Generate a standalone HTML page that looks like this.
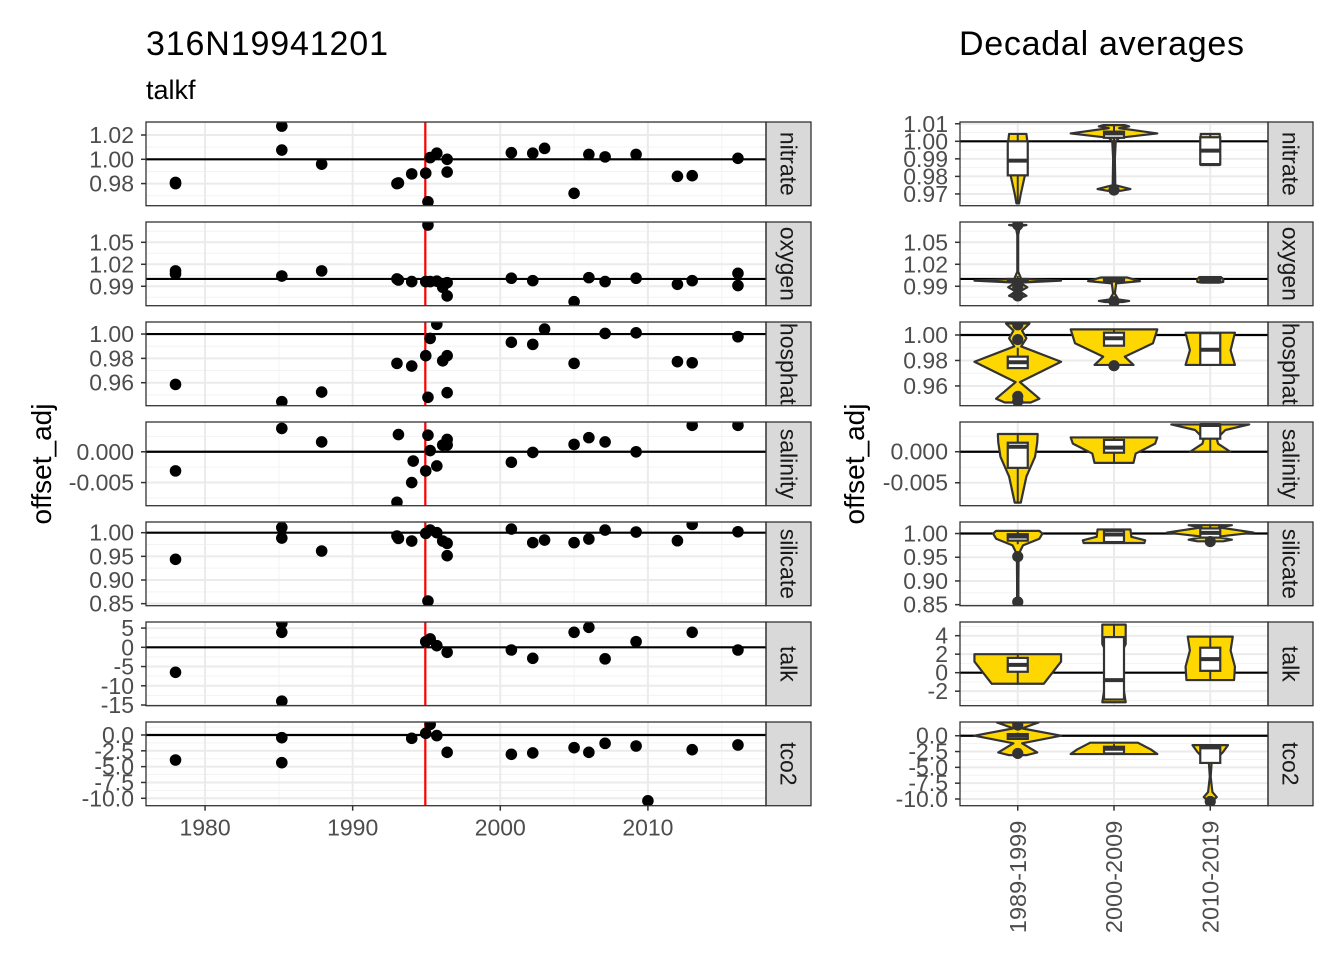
<!DOCTYPE html>
<html><head><meta charset="utf-8"><style>
html,body{margin:0;padding:0;background:#fff;}
svg{display:block;font-family:"Liberation Sans",Arial,sans-serif;}
</style></head><body>
<svg id="chart" width="1344" height="960" viewBox="0 0 1344 960" xmlns="http://www.w3.org/2000/svg">
<text x="146" y="55" font-size="34" textLength="242" fill="#000">316N19941201</text>
<text x="146" y="99" font-size="27" fill="#000">talkf</text>
<text x="959" y="55" font-size="34" textLength="285" fill="#000">Decadal averages</text>
<text transform="translate(51,464) rotate(-90)" text-anchor="middle" font-size="28" fill="#000">offset_adj</text>
<text transform="translate(864,464) rotate(-90)" text-anchor="middle" font-size="28" fill="#000">offset_adj</text>
<g id="layer"></g>
</svg>
<script>
// ---- data ----
const params = ["nitrate","oxygen","phosphate","salinity","silicate","talk","tco2"];
const stripLabels = ["nitrate","oxygen","hosphat","salinity","silicate","talk","tco2"];
const xTicks = [1980,1990,2000,2010];
const xMinor = [1985,1995,2005,2015];
const crossoverYear = 1994.92;
const decades = ["1989-1999","2000-2009","2010-2019"];

const ticksL = [[0.98,1.00,1.02],[0.99,1.02,1.05],[0.96,0.98,1.00],[-0.005,0.000],[0.85,0.90,0.95,1.00],[-15,-10,-5,0,5],[-10,-7.5,-5,-2.5,0]];
const tickLabL = [["0.98","1.00","1.02"],["0.99","1.02","1.05"],["0.96","0.98","1.00"],["-0.005","0.000"],["0.85","0.90","0.95","1.00"],["-15","-10","-5","0","5"],["-10.0","-7.5","-5.0","-2.5","0.0"]];
const ticksR = [[0.97,0.98,0.99,1.00,1.01],[0.99,1.02,1.05],[0.96,0.98,1.00],[-0.005,0.000],[0.85,0.90,0.95,1.00],[-2,0,2,4],[-10,-7.5,-5,-2.5,0]];
const tickLabR = [["0.97","0.98","0.99","1.00","1.01"],["0.99","1.02","1.05"],["0.96","0.98","1.00"],["-0.005","0.000"],["0.85","0.90","0.95","1.00"],["-2","0","2","4"],["-10.0","-7.5","-5.0","-2.5","0.0"]];
const domL = [[0.9618,1.0307],[0.9635,1.0777],[0.9411,1.0099],[-0.00876,0.00484],[0.8457,1.0226],[-15.18,6.58],[-11.17,2.05]];
const domR = [[0.9633,1.011],[0.9635,1.0777],[0.9445,1.0102],[-0.0087,0.00479],[0.8478,1.0243],[-3.57,5.48],[-11.06,2.17]];
const refLine = [1,1,1,0,1,0,0];

const nitrateYears = [1978,1978,1985.2,1985.2,1987.9,1993.0,1993.1,1994.0,1994.95,1995.1,1995.25,1995.7,1996.4,1996.4,2000.75,2002.2,2003.0,2005.0,2006.0,2007.1,2009.2,2012.0,2013.0,2016.1];
const nitrateVals = [0.980,0.981,1.0273,1.0076,0.996,0.980,0.9805,0.988,0.9886,0.965,1.0014,1.005,1.000,0.9895,1.0054,1.005,1.009,0.972,1.004,1.002,1.004,0.986,0.9865,1.0008];
const oxygenYears = [1978,1978,1985.2,1987.9,1993.0,1993.1,1994.0,1994.95,1995.1,1995.25,1995.7,1996.1,1996.4,1996.4,2000.75,2002.2,2005.0,2006.0,2007.1,2009.2,2012.0,2013.0,2016.1,2016.1];
const oxygenVals = [1.011,1.007,1.004,1.011,1.000,0.9986,0.9964,0.9964,1.0736,0.9964,0.997,0.9886,0.995,0.9768,1.001,0.9977,0.969,1.0018,0.9964,1.001,0.9927,0.9977,1.0077,0.991];
const phosphateYears = [1978,1985.2,1987.9,1993.0,1994.0,1994.95,1995.1,1995.25,1995.7,1996.1,1996.4,1996.4,2000.75,2002.2,2003.0,2005.0,2007.1,2009.2,2012.0,2013.0,2016.1];
const phosphateVals = [0.9586,0.9444,0.9523,0.9759,0.9737,0.9822,0.948,0.9964,1.008,0.978,0.9822,0.9518,0.9932,0.9915,1.0041,0.9759,1.0005,1.001,0.9773,0.9764,0.9978];
const salinityYears = [1978,1985.2,1987.9,1993.0,1993.1,1994.0,1994.1,1994.95,1995.1,1995.25,1995.7,1996.1,1996.4,1996.4,2000.75,2002.2,2005.0,2006.0,2007.1,2009.2,2013.0,2016.1];
const salinityVals = [-0.0031,0.0038,0.0016,-0.0082,0.0028,-0.005,-0.0015,-0.0031,0.0027,0.0002,-0.0023,0.0011,0.002,0.0011,-0.0017,-0.0001,0.0012,0.0023,0.0016,0.0,0.0043,0.0043];
const silicateYears = [1978,1985.2,1985.2,1987.9,1993.0,1993.1,1994.0,1994.95,1995.1,1995.25,1995.7,1996.1,1996.4,1996.4,2000.75,2002.2,2003.0,2005.0,2006.0,2007.1,2009.2,2012.0,2013.0,2016.1];
const silicateVals = [0.9437,1.011,0.9887,0.9613,0.993,0.988,0.9824,0.9986,0.8556,1.0056,1.000,0.9824,0.9775,0.9514,1.0077,0.979,0.9845,0.979,0.9866,1.0056,1.0014,0.983,1.0176,1.002];
const talkYears = [1978,1985.2,1985.2,1985.2,1994.95,1995.25,1995.7,1996.4,2000.75,2002.2,2005.0,2006.0,2007.1,2009.2,2013.0,2016.1];
const talkVals = [-6.5,6.24,3.9,-14,1.47,2.17,0.43,-1.3,-0.7,-2.86,3.9,5.2,-3.0,1.47,3.9,-0.7];
const tco2Years = [1978,1985.2,1985.2,1994.0,1994.95,1995.25,1995.7,1996.4,2000.75,2002.2,2005.0,2006.0,2007.1,2009.2,2010.0,2013.0,2016.1];
const tco2Vals = [-3.95,-0.42,-4.37,-0.53,0.26,1.68,-0.1,-2.74,-3.05,-2.84,-2.0,-2.74,-1.32,-1.74,-10.4,-2.32,-1.58];
const yearsAll = [nitrateYears,oxygenYears,phosphateYears,salinityYears,silicateYears,talkYears,tco2Years];
const valsAll = [nitrateVals,oxygenVals,phosphateVals,salinityVals,silicateVals,talkVals,tco2Vals];

// violin profiles: [value, relative half-width]
const nitrateViolins = [[[1.0042,0.2],[1.0,0.22],[0.99,0.2],[0.98,0.16],[0.97,0.07],[0.9646,0.03]],
 [[1.0092,0.25],[1.0085,0.35],[1.0075,0.12],[1.0045,1.0],[1.002,0.12],[1.0,0.04],[0.99,0.02],[0.975,0.03],[0.9728,0.38],[0.9718,0.15]],
 [[1.0042,0.22],[0.9865,0.22]]];
const oxygenViolins = [[[1.0736,0.2],[1.072,0.05],[1.06,0.01],[1.01,0.01],[1.0,0.08],[0.9977,1.0],[0.995,0.05],[0.9886,0.22],[0.983,0.05],[0.977,0.2],[0.975,0.1]],
 [[1.002,0.3],[0.997,0.6],[0.994,0.05],[0.98,0.02],[0.972,0.1],[0.970,0.35],[0.9685,0.2]],
 [[1.0025,0.25],[0.9995,0.3],[0.996,0.3],[0.995,0.2]]];
const phosphateViolins = [[[1.009,0.27],[1.0034,0.1],[0.9974,0.2],[0.991,0.08],[0.979,1.0],[0.963,0.05],[0.950,0.5],[0.947,0.3]],
 [[1.0044,1.0],[0.9935,0.9],[0.983,0.25],[0.9765,0.45]],
 [[1.0018,0.57],[0.988,0.47],[0.9765,0.57]]];
const salinityViolins = [[[0.00285,0.46],[0.0015,0.45],[-0.0008,0.4],[-0.004,0.2],[-0.0082,0.07]],
 [[0.0023,1.0],[0.0013,0.95],[-0.0003,0.5],[-0.0018,0.45]],
 [[0.0044,0.9],[0.0035,0.35],[0.0021,0.15],[0.0013,0.18],[0.0,0.46]]];
const silicateViolins = [[[1.0056,0.5],[1.0,0.57],[0.989,0.5],[0.975,0.12],[0.96,0.04],[0.952,0.02],[0.9,0.015],[0.8556,0.015]],
 [[1.0086,0.38],[0.993,0.4],[0.9857,0.72],[0.98,0.7]],
 [[1.0176,0.5],[1.013,0.2],[1.002,1.0],[0.993,0.15],[0.987,0.5],[0.9836,0.3]]];
const talkViolins = [[[2.0,1.0],[1.2,1.0],[-1.2,0.6]],
 [[5.2,0.27],[3.1,0.27],[1.0,0.05],[-1.1,0.2],[-3.2,0.27]],
 [[3.9,0.52],[2.4,0.47],[0.64,0.57],[-0.8,0.55]]];
const tco2Violins = [[[2.1,0.48],[1.16,0.1],[0.0,1.0],[-1.2,0.1],[-2.65,0.45],[-3.07,0.2]],
 [[-1.1,0.55],[-2.17,0.85],[-2.9,1.0]],
 [[-1.48,0.41],[-2.54,0.3],[-4.4,0.03],[-6.5,0.01],[-8.9,0.05],[-9.7,0.15],[-10.3,0.05]]];
const violinsAll = [nitrateViolins,oxygenViolins,phosphateViolins,salinityViolins,silicateViolins,talkViolins,tco2Violins];

// boxes: [lo, q1, median, q3, hi]
const nitrateBoxes = [[0.965,0.9806,0.989,1.0,1.0042],[0.9725,1.002,1.0045,1.0055,1.009],[0.9865,0.987,0.9947,1.0023,1.004]];
const oxygenBoxes = [[0.9936,0.9964,0.9977,1.0,1.004],[0.9964,0.9966,0.9977,1.0012,1.0018],[0.995,0.996,0.997,1.0,1.002]];
const phosphateBoxes = [[0.9737,0.974,0.9786,0.983,0.99],[0.9915,0.9916,0.9974,1.0018,1.0041],[0.9764,0.9765,0.9884,1.0014,1.0014]];
const salinityBoxes = [[-0.0082,-0.0026,0.0008,0.00145,0.0028],[-0.0017,-0.00016,0.00065,0.0019,0.0023],[0.0,0.0021,0.0043,0.0044,0.0044]];
const silicateBoxes = [[0.9775,0.985,0.9936,0.9986,1.0056],[0.979,0.982,0.998,1.0057,1.0077],[0.983,0.9914,1.0014,1.0107,1.0176]];
const talkBoxes = [[-1.3,0.1,0.85,1.6,2.0],[-3.0,-2.9,-0.8,3.85,5.2],[-0.7,0.2,1.46,2.7,3.9]];
const tco2Boxes = [[-0.53,-0.5,0.0,0.26,0.5],[-3.05,-2.8,-2.06,-1.75,-1.32],[-4.3,-4.3,-1.85,-1.7,-1.58]];
const boxesAll = [nitrateBoxes,oxygenBoxes,phosphateBoxes,salinityBoxes,silicateBoxes,talkBoxes,tco2Boxes];

const nitrateOut = [[],[0.9722],[]];
const oxygenOut = [[1.0736,0.9886,0.9768],[0.969],[]];
const phosphateOut = [[1.008,0.9964,0.948,0.9518],[0.9759],[]];
const salinityOut = [[],[],[]];
const silicateOut = [[0.9514,0.8556],[],[0.983]];
const talkOut = [[],[],[]];
const tco2Out = [[1.68,-2.8],[],[-10.4]];
const outAll = [nitrateOut,oxygenOut,phosphateOut,salinityOut,silicateOut,talkOut,tco2Out];

// ---- layout ----
const NS = "http://www.w3.org/2000/svg";
const layer = document.getElementById('layer');
const L = {x0:146, x1:766}, R = {x0:960, x1:1268};
const STRIPW = 45, PTOP = 122, PH = 83.7, PITCH = 100;
const xYear = y => L.x0 + (y - 1976) / (2018 - 1976) * (L.x1 - L.x0);
const xCat = i => R.x0 + (i + 0.6) / 3.2 * (R.x1 - R.x0);
const catW = (R.x1 - R.x0) / 3.2;
function yScale(dom, top){ return v => top + PH - (v - dom[0]) / (dom[1] - dom[0]) * PH; }
function mk(tag, attrs, parent){ const e=document.createElementNS(NS,tag); for(const k in attrs) e.setAttribute(k,attrs[k]); (parent||layer).appendChild(e); return e; }

function frame(g, x0, x1, top, ys, ticks, labs, lab, vgrid, vminor){
  mk('rect',{x:x0,y:top,width:x1-x0,height:PH,fill:'#fff'},g);
  const step = ticks.length>1 ? ticks[1]-ticks[0] : 0.005;
  for(let k=-1;k<ticks.length;k++){
    const v = ticks[0] + (k+0.5)*step; const y=ys(v);
    if(y>top && y<top+PH) mk('line',{x1:x0,x2:x1,y1:y,y2:y,stroke:'#f3f3f3','stroke-width':1},g);
  }
  vminor.forEach(x=>mk('line',{x1:x,x2:x,y1:top,y2:top+PH,stroke:'#f3f3f3','stroke-width':1},g));
  ticks.forEach(v=>{const y=ys(v); mk('line',{x1:x0,x2:x1,y1:y,y2:y,stroke:'#ebebeb','stroke-width':2},g);});
  vgrid.forEach(x=>mk('line',{x1:x,x2:x,y1:top,y2:top+PH,stroke:'#ebebeb','stroke-width':2},g));
  ticks.forEach((v,i)=>{const y=ys(v);
    mk('line',{x1:x0-5,x2:x0,y1:y,y2:y,stroke:'#333','stroke-width':1.5},g);
    const t=mk('text',{x:x0-12,y:y+8,'text-anchor':'end','font-size':23,fill:'#4d4d4d'},g); t.textContent=labs[i];
    
    
  });
  const s=mk('rect',{x:x1,y:top,width:STRIPW,height:PH,fill:'#d9d9d9',stroke:'#333','stroke-width':1.3},g);
  
  
  const cid='c'+Math.round(x1)+'_'+Math.round(top);
  const cp=mk('clipPath',{id:cid},g); mk('rect',{x:x1,y:top,width:STRIPW,height:PH},cp);
  const sg=mk('g',{'clip-path':`url(#${cid})`},g);
  const st=mk('text',{transform:`translate(${x1+STRIPW/2-8},${top+PH/2}) rotate(90)`,'text-anchor':'middle','font-size':23,fill:'#1a1a1a'},sg);
  st.textContent=lab;
  
  
}

params.forEach((p,i)=>{
  const top = PTOP + i*PITCH;
  const gl = mk('g',{});
  
  
  const ysL = yScale(domL[i], top);
  frame(gl, L.x0, L.x1, top, ysL, ticksL[i], tickLabL[i], stripLabels[i], xTicks.map(xYear), xMinor.map(xYear));
  const cpl=mk('clipPath',{id:'pl'+i},gl); mk('rect',{x:L.x0,y:top,width:L.x1-L.x0,height:PH},cpl);
  const inner=mk('g',{'clip-path':`url(#pl${i})`},gl);
  mk('line',{x1:L.x0,x2:L.x1,y1:ysL(refLine[i]),y2:ysL(refLine[i]),stroke:'#000','stroke-width':2.2},inner);
  const rl=mk('line',{x1:xYear(crossoverYear),x2:xYear(crossoverYear),y1:top,y2:top+PH,stroke:'#ff0000','stroke-width':2.2},inner);
  
  
  yearsAll[i].forEach((yr,j)=>{
    const c=mk('circle',{cx:xYear(yr),cy:ysL(valsAll[i][j]),r:5.8,fill:'#000'},inner);
    
    
  });
  mk('rect',{x:L.x0,y:top,width:L.x1-L.x0,height:PH,fill:'none',stroke:'#333','stroke-width':1.3},gl);

  const gr = mk('g',{});
  
  
  const ysR = yScale(domR[i], top);
  frame(gr, R.x0, R.x1, top, ysR, ticksR[i], tickLabR[i], stripLabels[i], [0,1,2].map(xCat), []);
  const cpr=mk('clipPath',{id:'pr'+i},gr); mk('rect',{x:R.x0,y:top,width:R.x1-R.x0,height:PH},cpr);
  const ir=mk('g',{'clip-path':`url(#pr${i})`},gr);
  mk('line',{x1:R.x0,x2:R.x1,y1:ysR(refLine[i]),y2:ysR(refLine[i]),stroke:'#000','stroke-width':2.2},ir);
  [0,1,2].forEach(d=>{
    const cx=xCat(d), hw=catW*0.45;
    const prof=violinsAll[i][d];
    let pts=prof.map(q=>`${cx+q[1]*hw},${ysR(q[0])}`);
    let ptsL=prof.slice().reverse().map(q=>`${cx-q[1]*hw},${ysR(q[0])}`);
    const v=mk('polygon',{points:pts.concat(ptsL).join(' '),fill:'#ffd700',stroke:'#333','stroke-width':2.2,'stroke-linejoin':'round'},ir);
    
    
    const b=boxesAll[i][d], bw=10;
    mk('line',{x1:cx,x2:cx,y1:ysR(b[0]),y2:ysR(b[4]),stroke:'#333','stroke-width':2},ir);
    const br=mk('rect',{x:cx-bw,y:ysR(b[3]),width:2*bw,height:Math.max(1,ysR(b[1])-ysR(b[3])),fill:'#fff',stroke:'#333','stroke-width':2.2},ir);
    
    
    mk('line',{x1:cx-bw,x2:cx+bw,y1:ysR(b[2]),y2:ysR(b[2]),stroke:'#333','stroke-width':4},ir);
    outAll[i][d].forEach(o=>{
      const c=mk('circle',{cx:cx,cy:ysR(o),r:5.6,fill:'#333'},ir);
      
      
    });
  });
  mk('rect',{x:R.x0,y:top,width:R.x1-R.x0,height:PH,fill:'none',stroke:'#333','stroke-width':1.3},gr);
});

const bottom = PTOP + 6*PITCH + PH;
xTicks.forEach(t=>{
  const x=xYear(t);
  mk('line',{x1:x,x2:x,y1:bottom,y2:bottom+5,stroke:'#333','stroke-width':1.5});
  const tx=mk('text',{x:x,y:bottom+30,'text-anchor':'middle','font-size':23,fill:'#4d4d4d'});
  tx.textContent=t;
  
  
});
decades.forEach((d,i)=>{
  const x=xCat(i);
  mk('line',{x1:x,x2:x,y1:bottom,y2:bottom+5,stroke:'#333','stroke-width':1.5});
  const tx=mk('text',{transform:`translate(${x+8},${bottom+15}) rotate(-90)`,'text-anchor':'end','font-size':23.5,fill:'#4d4d4d'});
  tx.textContent=d;
  
  
});
</script>
</body></html>
